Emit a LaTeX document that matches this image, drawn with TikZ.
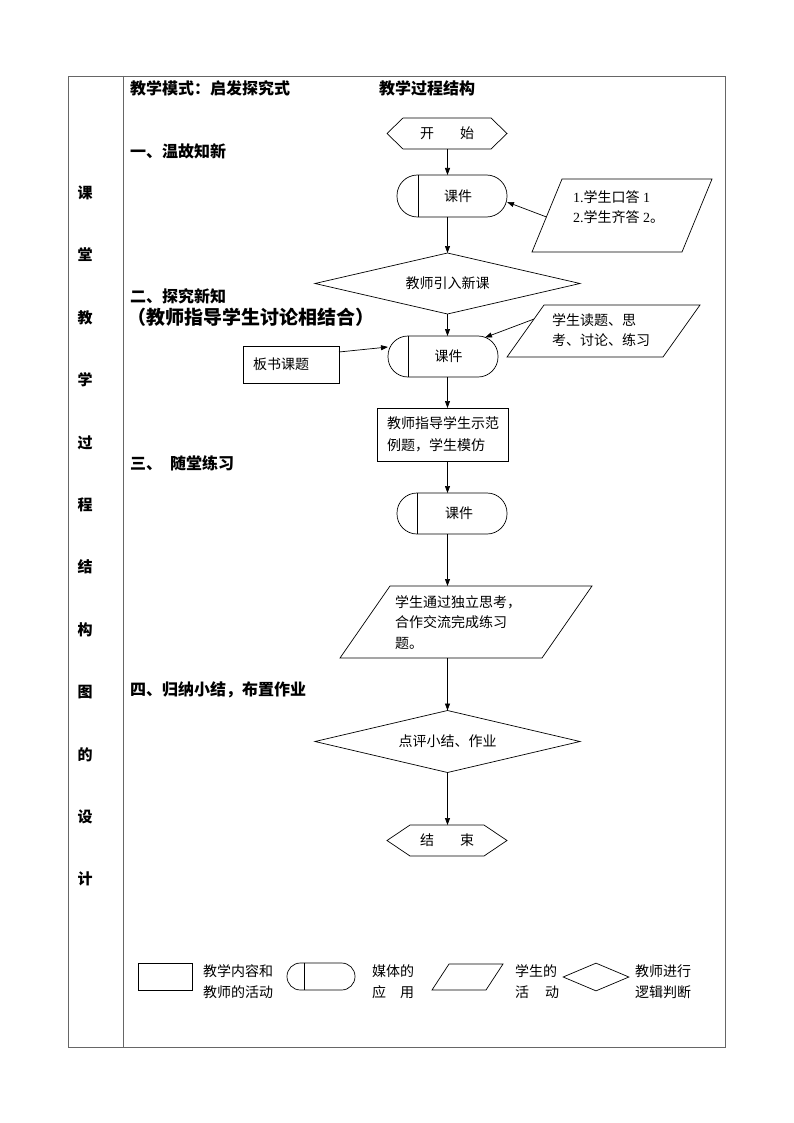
\documentclass[tikz,border=0pt]{standalone}
\usepackage{fontspec}
\setmainfont{Noto Sans CJK SC}
\newfontfamily\tnr{Liberation Serif}
\usetikzlibrary{arrows.meta,shapes.geometric,calc}
\begin{document}
\begin{tikzpicture}[x=1pt,y=-1pt,
  frameline/.style={draw=black!60,line width=0.8pt},
  shp/.style={draw=black,line width=0.7pt},
  arr/.style={draw=black,line width=0.7pt,-{Triangle[length=7pt,width=5pt]}},
  ghost/.style={rectangle,draw=none,inner sep=0pt,outer sep=0pt},
  boxnode/.style={shp,rectangle,inner sep=0pt,outer sep=0pt},
  termnode/.style={shp,rectangle,inner sep=0pt,outer sep=0pt,minimum width=110pt},
  dia/.style={shp,diamond,inner sep=0pt,outer sep=0pt,aspect=4.3},
  ftxt/.style={font=\fontsize{14}{20}\selectfont,inner sep=0pt,align=left},
  lgtxt/.style={font=\fontsize{14}{21}\selectfont,inner sep=0pt,align=left,anchor=west},
  seclbl/.style={font=\bfseries\fontsize{16}{16}\selectfont,inner sep=0pt,anchor=west}
]
\path[use as bounding box,fill=white] (0,0) rectangle (794,1123);

% table frame
\draw[frameline] (68,76) rectangle (725,1047);
\draw[frameline] (123,76) -- (123,1047);

% left column
\node[inner sep=0pt,align=center,font=\bfseries\fontsize{15}{62.4}\selectfont] (side) at (85,536)
  {课\\堂\\教\\学\\过\\程\\结\\构\\图\\的\\设\\计};

% headings
\node[seclbl] (hmode) at (130,88) {教学模式：启发探究式};
\node[seclbl] (htitle) at (379,88) {教学过程结构};
\node[seclbl] (s1) at (130,151) {一、温故知新};
\node[seclbl] (s2) at (130,296) {二、探究新知};
\node[seclbl,font=\bfseries\fontsize{19}{19}\selectfont] (s2b) at (127,317) {（教师指导学生讨论相结合）};
\node[seclbl] (s3) at (130,463) {三、\hspace{8pt}随堂练习};
\node[seclbl] (s4) at (130,690) {四、归纳小结，布置作业};

% start hexagon
\node[ghost,minimum width=120pt,minimum height=31pt,font=\fontsize{14}{14}\selectfont] (start) at (447,133.5) {开\hspace{26pt}始};
\draw[shp] (start.west) -- ([xshift=16pt]start.north west) -- ([xshift=-16pt]start.north east)
  -- (start.east) -- ([xshift=-16pt]start.south east) -- ([xshift=16pt]start.south west) -- cycle;

% courseware 1
\node[termnode,minimum height=42pt,rounded corners=20.5pt,font=\fontsize{14}{14}\selectfont] (k1) at (452,196) {\hspace*{12pt}课件};
\draw[shp] ([xshift=21pt]k1.north west) -- ([xshift=21pt]k1.south west);

% student parallelogram 1
\node[ghost,minimum width=180pt,minimum height=73pt] (p1) at (622,215.5) {};
\draw[shp] ([xshift=30pt]p1.north west) -- (p1.north east) -- ([xshift=-30pt]p1.south east) -- (p1.south west) -- cycle;
\node[ftxt,anchor=west] (p1t) at (573,207) {{\tnr 1.}学生口答{\tnr\ 1}\\{\tnr 2.}学生齐答{\tnr\ 2}。};

% diamond 1
\node[dia,minimum width=265pt,minimum height=61pt,font=\fontsize{14}{14}\selectfont] (d1) at (447.5,283.5) {教师引入新课};

% courseware 2
\node[termnode,minimum height=41pt,rounded corners=20pt,font=\fontsize{14}{14}\selectfont] (k2) at (443,356.5) {\hspace*{11pt}课件};
\draw[shp] ([xshift=20pt]k2.north west) -- ([xshift=20pt]k2.south west);

% blackboard box
\node[boxnode,minimum width=96pt,minimum height=37pt,text width=76pt,inner xsep=10pt,align=left,font=\fontsize{14}{14}\selectfont] (b) at (291,364.5) {板书课题};

% student parallelogram 2
\node[ghost,minimum width=193pt,minimum height=52pt] (p2) at (603.5,331) {};
\draw[shp] ([xshift=37pt]p2.north west) -- (p2.north east) -- ([xshift=-37pt]p2.south east) -- (p2.south west) -- cycle;
\node[ftxt,anchor=west] (p2t) at (552,330) {学生读题、思\\考、讨论、练习};

% teacher box
\node[boxnode,minimum width=131pt,minimum height=53pt,text width=111pt,inner xsep=10pt,align=left,font=\fontsize{14}{22}\selectfont] (r1) at (442.5,434.5) {教师指导学生示范\\例题，学生模仿};

% courseware 3
\node[termnode,minimum height=41pt,rounded corners=20pt,font=\fontsize{14}{14}\selectfont] (k3) at (452,513.5) {\hspace*{14pt}课件};
\draw[shp] ([xshift=20pt]k3.north west) -- ([xshift=20pt]k3.south west);

% student parallelogram 3
\node[ghost,minimum width=252pt,minimum height=72pt] (p3) at (466,622) {};
\draw[shp] ([xshift=50pt]p3.north west) -- (p3.north east) -- ([xshift=-50pt]p3.south east) -- (p3.south west) -- cycle;
\node[ftxt,anchor=west,font=\fontsize{14}{20.5}\selectfont] (p3t) at (395,622.5) {学生通过独立思考，\\合作交流完成练习\\题。};

% diamond 2
\node[dia,minimum width=265pt,minimum height=62pt,font=\fontsize{14}{14}\selectfont] (d2) at (447.5,741.5) {点评小结、作业};

% end hexagon
\node[ghost,minimum width=120pt,minimum height=31pt,font=\fontsize{14}{14}\selectfont] (end) at (447,840.5) {结\hspace{26pt}束};
\draw[shp] (end.west) -- ([xshift=23pt]end.north west) -- ([xshift=-23pt]end.north east)
  -- (end.east) -- ([xshift=-23pt]end.south east) -- ([xshift=23pt]end.south west) -- cycle;

% connectors
\draw[arr] (start.south -| d1.north) -- (k1.north -| d1.north);
\draw[arr] (k1.south -| d1.north) -- (d1.north);
\draw[arr] ($(p1.south west)!0.48!([xshift=30pt]p1.north west)$) -- ([yshift=-6pt]k1.east);
\draw[arr] (d1.south) -- (k2.north -| d1.south);
\draw[arr] ([yshift=-6pt]b.north east) -- ([yshift=-11pt]k2.north west);
\draw[arr] ($(p2.south west)!0.73!([xshift=37pt]p2.north west)$) -- ([xshift=-13pt,yshift=-1.5pt]k2.north east);
\draw[arr] (k2.south -| d1.north) -- (r1.north -| d1.north);
\draw[arr] (r1.south -| d1.north) -- (k3.north -| d1.north);
\draw[arr] (k3.south -| d1.north) -- (p3.north -| d1.north);
\draw[arr] (p3.south -| d1.north) -- (d2.north);
\draw[arr] (d2.south) -- (end.north -| d2.south);

% legend
\node[boxnode,minimum width=54pt,minimum height=27pt] (lr) at (165,976.5) {};
\node[lgtxt] (lrt) at (203,981.5) {教学内容和\\教师的活动};
\node[shp,rectangle,inner sep=0pt,minimum width=68pt,minimum height=27pt,rounded corners=13.4pt] (lt) at (321,976.5) {};
\draw[shp] ([xshift=18pt]lt.north west) -- ([xshift=18pt]lt.south west);
\node[lgtxt] (ltt) at (372,981.5) {媒体的\\应\hspace{14pt}用};
\node[ghost,minimum width=71pt,minimum height=26pt] (lp) at (467.5,977) {};
\draw[shp] ([xshift=17pt]lp.north west) -- (lp.north east) -- ([xshift=-17pt]lp.south east) -- (lp.south west) -- cycle;
\node[lgtxt] (lpt) at (515,981.5) {学生的\\活\hspace{16pt}动};
\node[shp,diamond,inner sep=0pt,aspect=2.4,minimum width=66pt,minimum height=28pt] (ld) at (596,977) {};
\node[lgtxt] (ldt) at (635,981.5) {教师进行\\逻辑判断};
\end{tikzpicture}
\end{document}
